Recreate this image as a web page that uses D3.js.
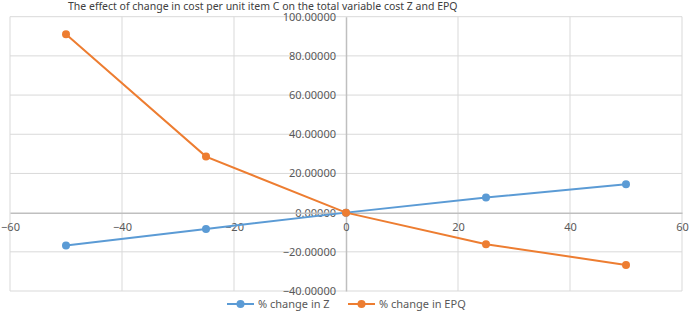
<!DOCTYPE html>
<html>
<head>
<meta charset="utf-8">
<script src="https://cdn.jsdelivr.net/npm/d3@7"></script>
<style>
  body { margin: 0; background: #fff; }
  svg { font-family: "Noto Sans", "Open Sans", sans-serif; }
</style>
</head>
<body>
<div id="chart"></div>
<script>
// % change in cost per unit item C
var changeC = [-50, -25, 0, 25, 50];
var zChange = [-16.8, -8.3, 0, 7.7, 14.5];
var epqChange = [91.0, 28.6, 0, -16.1, -26.7];
var xTicks = [-60, -40, -20, 0, 20, 40, 60];
var yTicks = [-40, -20, 0, 20, 40, 60, 80, 100];
var seriesNames = ["% change in Z", "% change in EPQ"];
var colors = ["#5b9bd5", "#ed7d31"];

var width = 690, height = 314;

var x = d3.scaleLinear().domain([-60, 60]).range([10, 682]);
var y = d3.scaleLinear().domain([-40, 100]).range([291, 16.7]);

var svg = d3.select("#chart").append("svg")
    .attr("width", width)
    .attr("height", height);

// title
svg.append("text")
    .attr("x", 68)
    .attr("y", 10)
    .attr("font-size", 10.5)
    .attr("fill", "#404040")
    .text("The effect of change in cost per unit item C on the total variable cost Z and EPQ");

// grid
svg.append("g").selectAll("line")
    .data(yTicks.filter(function (d) { return d !== 0; }))
    .enter().append("line")
    .attr("x1", x(-60)).attr("x2", x(60))
    .attr("y1", function (d) { return y(d); })
    .attr("y2", function (d) { return y(d); })
    .attr("stroke", "#d9d9d9");

svg.append("g").selectAll("line")
    .data(xTicks.filter(function (d) { return d !== 0; }))
    .enter().append("line")
    .attr("y1", y(100)).attr("y2", y(-40))
    .attr("x1", function (d) { return x(d); })
    .attr("x2", function (d) { return x(d); })
    .attr("stroke", "#d9d9d9");

// axes through zero
var yAxis = d3.axisLeft(y).tickValues(yTicks).tickSize(0).tickPadding(10)
    .tickFormat(d3.format(".5f"));
var gy = svg.append("g")
    .attr("transform", "translate(" + x(0) + ",0)")
    .call(yAxis);
gy.select(".domain").attr("stroke", "#bfbfbf").attr("stroke-width", 1.5);

var xAxis = d3.axisBottom(x).tickValues(xTicks).tickSize(0).tickPadding(11)
    .tickFormat(d3.format("d"));
var gx = svg.append("g")
    .attr("transform", "translate(0," + y(0) + ")")
    .call(xAxis);
gx.select(".domain").attr("stroke", "#bfbfbf").attr("stroke-width", 1.5);

svg.selectAll(".tick text")
    .attr("font-family", "\"Noto Sans\", sans-serif")
    .attr("font-size", 11)
    .attr("fill", "#595959");

// series
var series = [zChange, epqChange];
var line = d3.line()
    .x(function (d, i) { return x(changeC[i]); })
    .y(function (d) { return y(d); });

series.forEach(function (vals, k) {
    svg.append("path")
        .datum(vals)
        .attr("d", line)
        .attr("fill", "none")
        .attr("stroke", colors[k])
        .attr("stroke-width", 2);
    svg.append("g").selectAll("circle")
        .data(vals)
        .enter().append("circle")
        .attr("cx", function (d, i) { return x(changeC[i]); })
        .attr("cy", function (d) { return y(d); })
        .attr("r", 4)
        .attr("fill", colors[k]);
});

// legend
var legendX = [227, 348];
var legend = svg.append("g").selectAll("g")
    .data(seriesNames)
    .enter().append("g")
    .attr("transform", function (d, i) { return "translate(" + legendX[i] + ",304)"; });
legend.append("line")
    .attr("x1", 0).attr("x2", 27)
    .attr("stroke", function (d, i) { return colors[i]; })
    .attr("stroke-width", 2);
legend.append("circle")
    .attr("cx", 13.5).attr("r", 4)
    .attr("fill", function (d, i) { return colors[i]; });
legend.append("text")
    .attr("x", 31)
    .attr("y", 4)
    .attr("font-size", 11)
    .attr("fill", "#595959")
    .text(function (d) { return d; });
</script>
</body>
</html>
